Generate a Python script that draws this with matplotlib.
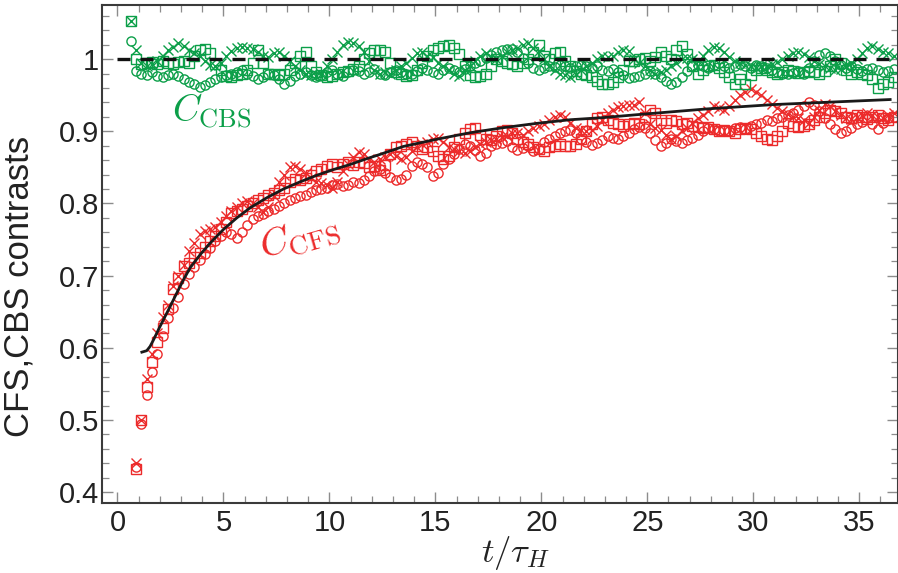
import numpy as np
import matplotlib
matplotlib.use('Agg')
import matplotlib.pyplot as plt
from matplotlib.ticker import MultipleLocator, FuncFormatter

plt.rcParams['font.family'] = ['Liberation Sans', 'DejaVu Sans']
plt.rcParams['mathtext.fontset'] = 'cm'

red = '#ec2b2b'
green = '#0c9f49'

# sampling times (t / tau_H)
t_cfs = 0.875 + 0.25 * np.arange(144)
t_cbs = 0.625 + 0.25 * np.arange(145)

# CFS contrast, three runs (circles, squares, crosses)
cfs_o = [0.435, 0.495, 0.535, 0.567, 0.592, 0.617, 0.641, 0.655, 0.670, 0.688, 0.702, 0.712,
         0.722, 0.730, 0.738, 0.748, 0.755, 0.760, 0.757, 0.752, 0.760, 0.770, 0.778, 0.782,
         0.786, 0.789, 0.792, 0.796, 0.800, 0.805, 0.808, 0.810, 0.812, 0.816, 0.818, 0.820,
         0.822, 0.825, 0.827, 0.824, 0.826, 0.830, 0.828, 0.832, 0.838, 0.845, 0.848, 0.842,
         0.836, 0.832, 0.834, 0.840, 0.852, 0.858, 0.855, 0.850, 0.838, 0.842, 0.855, 0.862,
         0.868, 0.876, 0.882, 0.880, 0.874, 0.866, 0.870, 0.880, 0.883, 0.884, 0.886, 0.878,
         0.874, 0.877, 0.880, 0.873, 0.876, 0.885, 0.890, 0.893, 0.897, 0.900, 0.902, 0.898,
         0.890, 0.885, 0.881, 0.884, 0.888, 0.893, 0.891, 0.890, 0.894, 0.898, 0.903, 0.906,
         0.905, 0.897, 0.888, 0.880, 0.884, 0.889, 0.886, 0.884, 0.888, 0.891, 0.895, 0.900,
         0.905, 0.903, 0.900, 0.902, 0.900, 0.904, 0.906, 0.903, 0.907, 0.910, 0.912, 0.915,
         0.914, 0.918, 0.920, 0.923, 0.926, 0.930, 0.935, 0.940, 0.937, 0.928, 0.918, 0.910,
         0.903, 0.898, 0.900, 0.905, 0.910, 0.913, 0.918, 0.910, 0.903, 0.912, 0.918, 0.920]
cfs_s = [0.432, 0.500, 0.546, 0.580, 0.608, 0.628, 0.654, 0.681, 0.697, 0.714, 0.718, 0.726,
         0.732, 0.740, 0.748, 0.755, 0.765, 0.775, 0.787, 0.790, 0.792, 0.796, 0.800, 0.805,
         0.808, 0.812, 0.815, 0.818, 0.822, 0.830, 0.834, 0.832, 0.835, 0.840, 0.845, 0.848,
         0.852, 0.855, 0.850, 0.854, 0.857, 0.853, 0.858, 0.856, 0.850, 0.852, 0.847, 0.853,
         0.868, 0.878, 0.880, 0.882, 0.885, 0.880, 0.876, 0.878, 0.873, 0.866, 0.862, 0.866,
         0.878, 0.890, 0.898, 0.903, 0.905, 0.895, 0.890, 0.888, 0.893, 0.900, 0.902, 0.898,
         0.890, 0.885, 0.882, 0.878, 0.875, 0.873, 0.878, 0.880, 0.882, 0.880, 0.879, 0.882,
         0.890, 0.900, 0.910, 0.918, 0.920, 0.915, 0.912, 0.910, 0.908, 0.910, 0.912, 0.910,
         0.920, 0.930, 0.925, 0.915, 0.912, 0.916, 0.914, 0.910, 0.912, 0.908, 0.906, 0.905,
         0.906, 0.903, 0.900, 0.902, 0.900, 0.898, 0.903, 0.905, 0.903, 0.898, 0.893, 0.890,
         0.888, 0.893, 0.900, 0.912, 0.908, 0.906, 0.907, 0.910, 0.915, 0.920, 0.925, 0.930,
         0.928, 0.925, 0.920, 0.918, 0.922, 0.920, 0.917, 0.920, 0.922, 0.918, 0.915, 0.920]
cfs_x = [0.440, 0.500, 0.557, 0.592, 0.620, 0.643, 0.660, 0.685, 0.700, 0.715, 0.734, 0.745,
         0.757, 0.762, 0.764, 0.768, 0.775, 0.783, 0.790, 0.795, 0.800, 0.803, 0.800, 0.795,
         0.788, 0.795, 0.810, 0.830, 0.840, 0.850, 0.852, 0.848, 0.842, 0.835, 0.830, 0.828,
         0.825, 0.822, 0.830, 0.845, 0.855, 0.864, 0.871, 0.868, 0.862, 0.858, 0.861, 0.865,
         0.868, 0.866, 0.862, 0.865, 0.872, 0.878, 0.882, 0.885, 0.889, 0.891, 0.885, 0.878,
         0.875, 0.872, 0.870, 0.872, 0.878, 0.882, 0.885, 0.888, 0.890, 0.892, 0.894, 0.897,
         0.898, 0.895, 0.900, 0.905, 0.907, 0.910, 0.915, 0.920, 0.922, 0.920, 0.912, 0.905,
         0.902, 0.900, 0.902, 0.908, 0.915, 0.925, 0.930, 0.933, 0.935, 0.937, 0.937, 0.940,
         0.925, 0.910, 0.905, 0.902, 0.895, 0.890, 0.893, 0.900, 0.905, 0.912, 0.918, 0.922,
         0.928, 0.935, 0.932, 0.930, 0.935, 0.944, 0.950, 0.955, 0.958, 0.955, 0.950, 0.944,
         0.938, 0.932, 0.928, 0.924, 0.920, 0.918, 0.915, 0.912, 0.920, 0.930, 0.938, 0.935,
         0.928, 0.922, 0.918, 0.917, 0.920, 0.923, 0.925, 0.922, 0.920, 0.918, 0.922, 0.925]

# CBS contrast, three runs
cbs_o = [1.025, 0.984, 0.980, 0.978, 0.982, 0.977, 0.975, 0.978, 0.980, 0.976, 0.972, 0.968,
         0.965, 0.962, 0.964, 0.968, 0.972, 0.975, 0.978, 0.980, 0.982, 0.985, 0.980, 0.977,
         0.972, 0.975, 0.980, 0.978, 0.972, 0.965, 0.970, 0.976, 0.980, 0.982, 0.978, 0.975,
         0.978, 0.982, 0.985, 0.980, 0.977, 0.982, 0.985, 0.983, 0.979, 0.982, 0.986, 0.980,
         0.978, 0.982, 0.985, 0.982, 0.979, 0.980, 0.984, 0.988, 0.985, 0.982, 0.980, 0.985,
         0.988, 0.985, 0.982, 0.986, 0.990, 0.994, 0.998, 1.002, 1.006, 1.010, 1.012, 1.014,
         1.014, 1.010, 1.002, 0.995, 0.988, 0.985, 0.987, 0.990, 0.989, 0.992, 0.990, 0.987,
         0.990, 0.992, 0.990, 0.988, 0.990, 0.985, 0.984, 0.986, 0.982, 0.978, 0.974, 0.975,
         0.977, 0.980, 0.983, 0.980, 0.975, 0.970, 0.966, 0.968, 0.975, 0.983, 0.990, 0.992,
         0.990, 0.988, 0.992, 0.995, 0.990, 0.987, 0.990, 0.993, 0.990, 0.988, 0.992, 0.990,
         0.988, 0.985, 0.982, 0.980, 0.979, 0.981, 0.983, 0.980, 0.988, 0.998, 1.006, 1.009,
         1.005, 0.998, 0.992, 0.988, 0.990, 0.986, 0.984, 0.986, 0.988, 0.985, 0.982, 0.984,
         0.986]
cbs_s = [1.053, 1.000, 0.993, 0.994, 0.996, 0.993, 0.997, 0.995, 0.993, 0.996, 0.997, 0.994,
         1.005, 1.012, 1.014, 1.008, 0.993, 0.985, 0.977, 0.975, 0.978, 0.980, 0.985, 0.995,
         1.012, 0.995, 0.980, 0.979, 0.978, 0.980, 0.985, 0.995, 1.005, 1.010, 0.990, 0.982,
         0.978, 0.975, 0.977, 0.980, 0.982, 0.984, 0.986, 0.990, 1.000, 1.008, 1.012, 1.013,
         1.010, 0.995, 0.982, 0.980, 0.977, 0.978, 0.985, 0.995, 1.005, 1.012, 1.016, 1.018,
         1.019, 1.015, 1.007, 0.990, 0.978, 0.975, 0.977, 0.980, 0.990, 1.000, 0.998, 0.995,
         0.993, 0.990, 0.995, 1.000, 1.010, 1.020, 1.005, 1.000, 1.008, 1.010, 0.998, 0.990,
         0.983, 0.980, 0.978, 0.975, 0.970, 0.966, 0.965, 0.968, 0.975, 0.985, 0.997, 0.998,
         1.000, 1.002, 0.998, 1.003, 1.010, 1.005, 1.000, 1.012, 1.018, 1.007, 0.990, 0.980,
         0.985, 0.990, 0.992, 0.988, 0.982, 0.975, 0.965, 0.972, 0.966, 0.978, 0.985, 0.988,
         0.985, 0.982, 0.980, 0.982, 0.985, 0.983, 0.981, 0.982, 0.984, 0.982, 0.980, 0.983,
         0.990, 1.000, 0.995, 0.985, 0.980, 0.982, 0.980, 0.978, 0.972, 0.960, 0.965, 0.968,
         0.975]
cbs_x = [1.053, 1.012, 0.995, 0.990, 0.993, 0.998, 1.005, 1.012, 1.017, 1.023, 1.018, 1.012,
         1.008, 1.004, 0.998, 0.992, 0.990, 0.995, 1.005, 1.011, 1.015, 1.017, 1.016, 1.014,
         1.010, 1.005, 1.003, 1.008, 1.010, 1.004, 0.998, 0.990, 0.985, 0.980, 0.978, 0.977,
         0.980, 0.990, 1.000, 1.010, 1.020, 1.024, 1.022, 1.018, 1.010, 0.998, 0.985, 0.980,
         0.982, 0.980, 0.985, 0.990, 0.995, 1.002, 1.008, 1.010, 1.005, 1.003, 0.995, 0.990,
         0.985, 0.980, 0.977, 0.985, 0.990, 0.998, 1.005, 1.008, 1.003, 1.000, 1.005, 1.010,
         1.012, 1.015, 1.020, 1.023, 1.015, 1.011, 1.000, 0.990, 0.985, 0.980, 0.978, 0.975,
         0.980, 0.985, 0.990, 0.995, 1.000, 1.004, 1.003, 1.005, 1.010, 1.013, 1.011, 1.000,
         0.995, 0.990, 0.985, 0.980, 0.982, 0.985, 0.990, 0.995, 1.000, 1.002, 1.000, 0.998,
         1.005, 1.012, 1.017, 1.016, 1.010, 1.003, 0.998, 0.995, 0.992, 0.990, 0.988, 0.990,
         0.990, 0.993, 0.996, 1.000, 1.004, 1.008, 1.010, 1.007, 1.003, 0.998, 0.993, 0.990,
         0.987, 0.985, 0.986, 0.990, 0.995, 1.000, 1.008, 1.015, 1.018, 1.014, 1.010, 1.008,
         1.005]

# fitted CFS curve
fit_t = [1.15, 1.38, 1.54, 1.70, 1.93, 2.17, 2.48, 2.80, 3.11, 3.43, 3.90, 4.37, 5.00,
         5.63, 6.26, 7.05, 7.83, 8.62, 9.40, 10.19, 10.98, 11.76, 12.39, 13.49, 15.07,
         16.64, 18.21, 19.79, 21.36, 22.93, 24.51, 27.81, 30.95, 34.10, 36.46]
fit_c = [0.594, 0.596, 0.602, 0.611, 0.625, 0.639, 0.657, 0.676, 0.694, 0.711, 0.729,
         0.745, 0.764, 0.780, 0.794, 0.808, 0.820, 0.830, 0.839, 0.847, 0.854, 0.862,
         0.868, 0.879, 0.889, 0.898, 0.905, 0.911, 0.916, 0.919, 0.923, 0.931, 0.937,
         0.941, 0.944]

fig = plt.figure(figsize=(8.98, 5.73), dpi=100)
ax = fig.add_axes([0.1136, 0.1222, 0.8864, 0.8691])

markers = [('o', 6.6), ('s', 6.8), ('x', 7.6)]
for vals, (m, ms) in zip([cfs_o, cfs_s, cfs_x], markers):
    ax.plot(t_cfs, vals, ls='none', marker=m, ms=ms, mfc='none', mec=red, mew=1.0)
for vals, (m, ms) in zip([cbs_o, cbs_s, cbs_x], markers):
    ax.plot(t_cbs, vals, ls='none', marker=m, ms=ms, mfc='none', mec=green, mew=1.0)

ax.plot(fit_t, fit_c, color='#1a1a1a', lw=2.0, zorder=5)
ax.hlines(1.0, 0, 37, colors='#111111', lw=2.4, linestyles=(0, (3.9, 3.0)), zorder=5)

ax.set_xlim(-0.73, 36.83)
ax.set_ylim(0.385, 1.075)

ax.xaxis.set_major_locator(MultipleLocator(5))
ax.xaxis.set_minor_locator(MultipleLocator(1))
ax.yaxis.set_major_locator(MultipleLocator(0.1))
ax.yaxis.set_minor_locator(MultipleLocator(0.02))
ax.yaxis.set_major_formatter(FuncFormatter(lambda v, p: f'{round(v, 2):g}'))

ax.tick_params(which='both', direction='in', top=True, right=True,
               color='#8c8c8c', labelsize=21, labelcolor='#222222')
ax.tick_params(which='major', length=8, width=1.0)
ax.tick_params(which='minor', length=5, width=0.9)
ax.tick_params(axis='y', pad=2)
ax.tick_params(axis='x', pad=4)
for s in ax.spines.values():
    s.set_color('#3a3a3a')
    s.set_linewidth(1.5)

ax.set_ylabel('CFS,CBS contrasts', fontsize=25, color='#222222')
ax.yaxis.set_label_coords(-0.083, 0.434)
ax.set_xlabel(r'$t/\tau_H$', fontsize=25, color='#222222')
ax.xaxis.set_label_coords(0.519, -0.062)

ax.text(4.46, 0.927, r'$C_{\rm CBS}$', color=green, fontsize=27,
        ha='center', va='center')
ax.text(8.6, 0.752, r'$C_{\rm CFS}$', color=red, fontsize=28,
        ha='center', va='center', rotation=16, rotation_mode='anchor')

fig.savefig('out.png', dpi=100)
